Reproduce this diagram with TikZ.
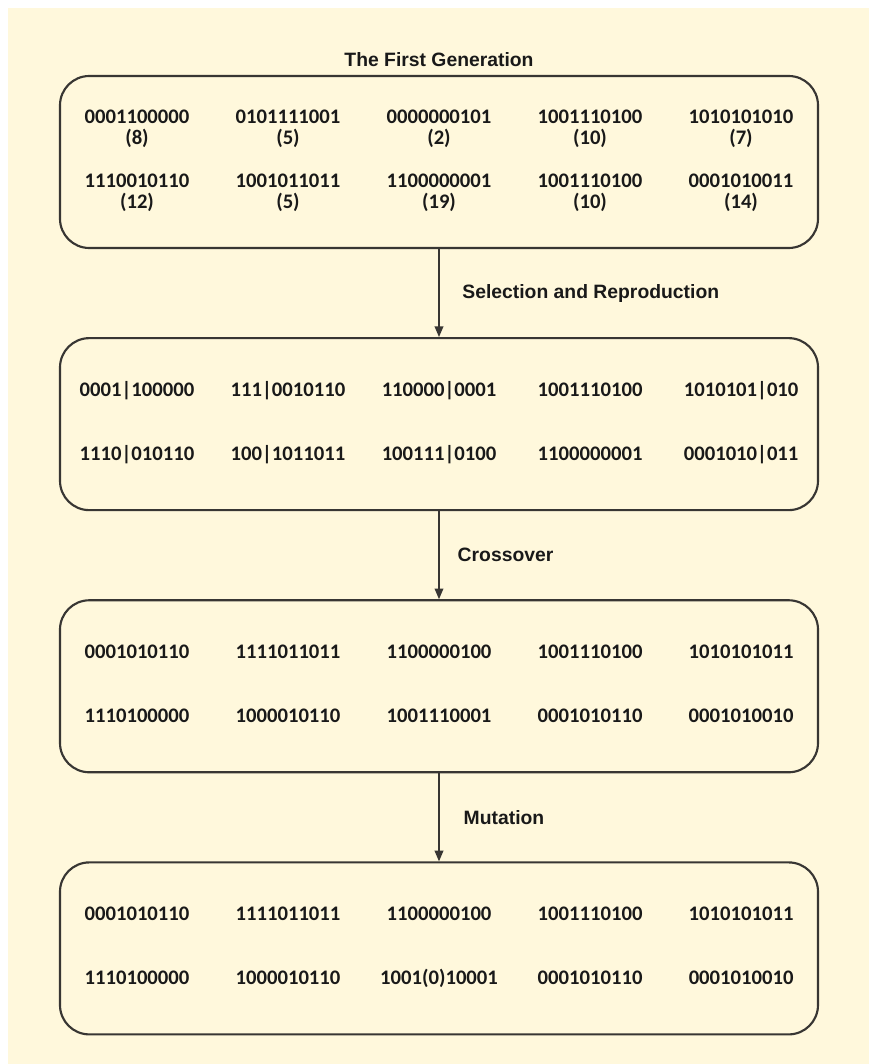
\documentclass[tikz,border=0pt]{standalone}
\usepackage{fontspec}
\setmainfont{Liberation Sans}
\newfontfamily\bitfont{Carlito}
\usepackage{array}
\usepackage{xcolor}
\usetikzlibrary{arrows.meta,positioning}

\definecolor{paper}{HTML}{FFF8DC}
\definecolor{ink}{HTML}{383633}
\newcolumntype{C}{>{\centering\arraybackslash}p{113.25pt}}

\begin{document}
\begin{tikzpicture}[
  node distance=66pt,
  genbox/.style={draw=ink, line width=1.6pt, rounded corners=22pt, minimum width=568.5pt, minimum height=129pt, inner sep=0pt, text=black!90, font=\bitfont\bfseries\fontsize{15.5}{15.75}\selectfont},
  steplabel/.style={inner sep=0pt, text=black!90, font=\bfseries\fontsize{14.5}{17}\selectfont},
  arrow/.style={draw=ink, line width=1.1pt, -{Triangle[length=8pt,width=6.5pt]}},
]
  % page and background
  \useasboundingbox (-329.25pt,121.5pt) rectangle (322.5pt,-676.5pt);
  \fill[white] (-329.25pt,121.5pt) rectangle (322.5pt,-676.5pt);
  \fill[paper] (-323.25pt,115.5pt) rectangle (322.5pt,-676.5pt);

  \node[genbox] (gen1) at (0,0) {%
    \begin{tabular}{*{5}{@{}C@{}}}
      0001100000\par(8) & 0101111001\par(5) & 0000000101\par(2) & 1001110100\par(10) & 1010101010\par(7) \\[32.25pt]
      1110010110\par(12) & 1001011011\par(5) & 1100000001\par(19) & 1001110100\par(10) & 0001010011\par(14)
    \end{tabular}};
  \node[genbox, below=of gen1] (parents) {%
    \begin{tabular}{*{5}{@{}C@{}}}
      0001|100000 & 111|0010110 & 110000|0001 & 1001110100 & 1010101|010 \\[32.25pt]
      1110|010110 & 100|1011011 & 100111|0100 & 1100000001 & 0001010|011
    \end{tabular}};
  \node[genbox, below=of parents] (children) {%
    \begin{tabular}{*{5}{@{}C@{}}}
      0001010110 & 1111011011 & 1100000100 & 1001110100 & 1010101011 \\[32.25pt]
      1110100000 & 1000010110 & 1001110001 & 0001010110 & 0001010010
    \end{tabular}};
  \node[genbox, below=of children] (mutated) {%
    \begin{tabular}{*{5}{@{}C@{}}}
      0001010110 & 1111011011 & 1100000100 & 1001110100 & 1010101011 \\[32.25pt]
      1110100000 & 1000010110 & 1001(0)10001 & 0001010110 & 0001010010
    \end{tabular}};
  \node[steplabel, above=6pt of gen1] (title) {The First Generation};

  \draw[arrow] (gen1) -- node[steplabel, right=17pt] (select) {Selection and Reproduction} (parents);
  \draw[arrow] (parents) -- node[steplabel, right=13.5pt] (cross) {Crossover} (children);
  \draw[arrow] (children) -- node[steplabel, right=18pt] (mutate) {Mutation} (mutated);
\end{tikzpicture}
\end{document}
